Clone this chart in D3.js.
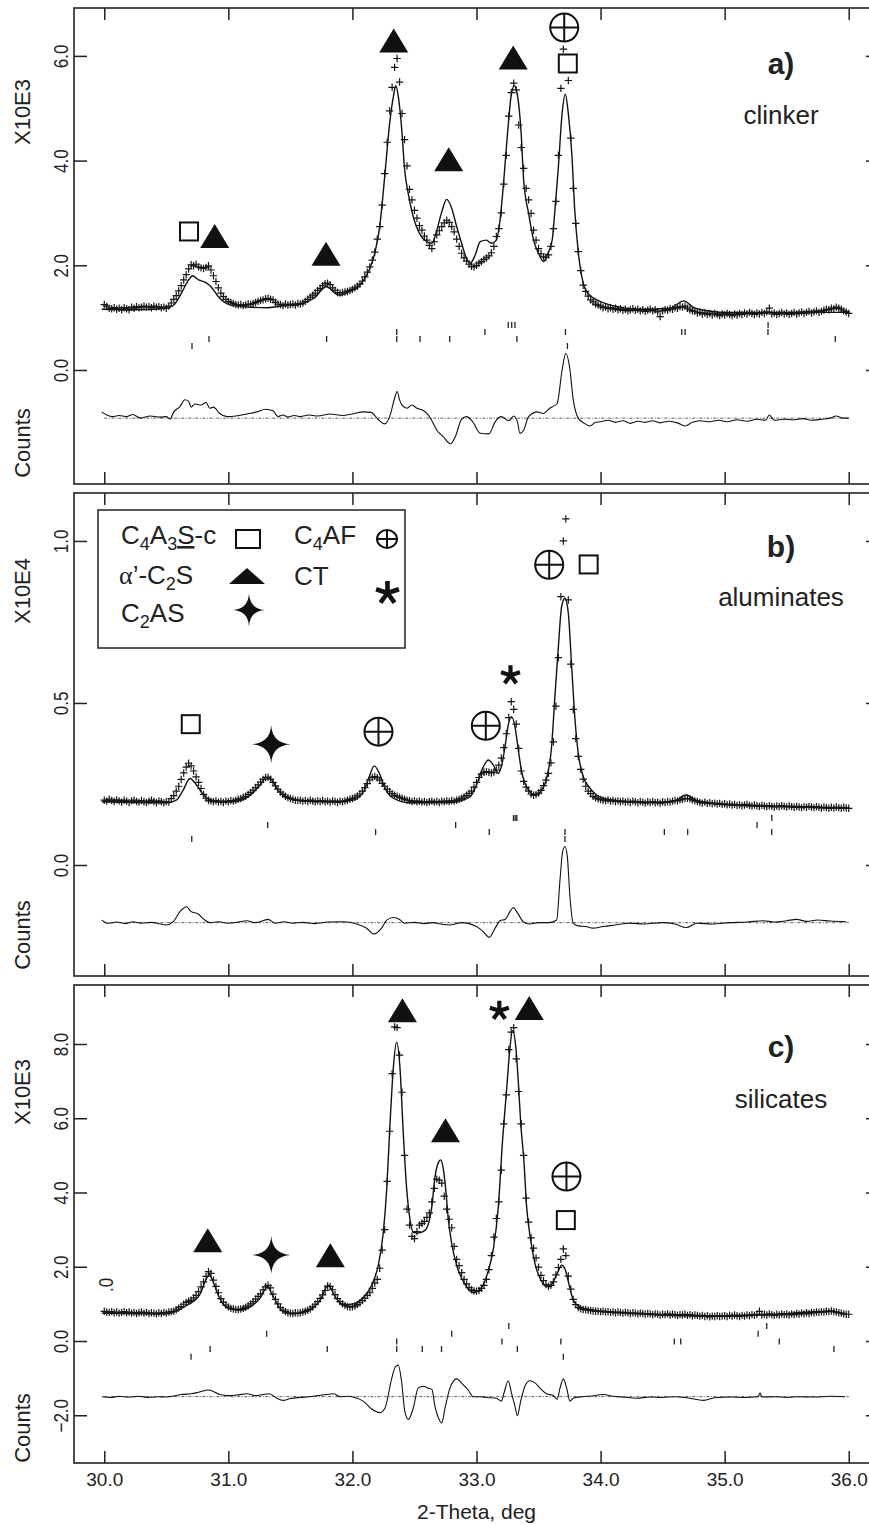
<!DOCTYPE html>
<meta charset="utf-8">
<style>

body {
  margin: 0;
  background: #fff;
}

svg {
  display: block;
  font-family: "Liberation Sans", Arial, Helvetica, sans-serif;
}

.frame { fill: none; stroke: #222; stroke-width: 1.6; }
.axis line { stroke: #222; stroke-width: 1.5; }
.obs { fill: none; stroke: #161616; stroke-width: 1.2; }
.calc { fill: none; stroke: #111; stroke-width: 1.4; }
.diff { fill: none; stroke: #111; stroke-width: 1.1; }
.zero { stroke: #333; stroke-width: 0.8; stroke-dasharray: 3,1.5,1,1.5; }
.refl { stroke: #222; stroke-width: 1.3; }

</style>
<body>
<script src="https://d3js.org/d3.v7.min.js"></script>
<script>

var width = 869,
    height = 1525;

// observed points are on a 0.02 deg grid starting at 30.00
var obsStart = 30.0,
    obsStep = 0.02;

var xTicks = [30, 31, 32, 33, 34, 35, 36];

// a) clinker, counts x10E3
var obsA = [
  1.25,1.22,1.18,1.17,1.19,1.16,1.18,1.15,1.19,1.17,1.15,1.20,1.18,1.21,1.19,1.20,1.22,1.20,1.21,1.19,1.22,1.20,1.21,1.19,1.20,
  1.18,1.22,1.28,1.35,1.42,1.51,1.61,1.72,1.82,1.93,2.01,1.99,2.02,1.97,1.95,1.94,1.96,1.99,1.91,1.80,1.69,1.57,1.47,1.40,1.35,
  1.31,1.29,1.27,1.25,1.24,1.25,1.23,1.24,1.26,1.25,1.27,1.29,1.31,1.33,1.34,1.36,1.37,1.35,1.34,1.29,1.26,1.25,1.23,1.26,1.24,
  1.25,1.26,1.24,1.27,1.26,1.28,1.31,1.35,1.39,1.43,1.47,1.52,1.56,1.61,1.65,1.66,1.63,1.57,1.52,1.48,1.47,1.48,1.49,1.50,1.52,
  1.54,1.57,1.60,1.64,1.70,1.78,1.87,1.97,2.10,2.25,2.50,2.74,3.15,3.75,4.35,4.95,5.40,5.78,5.95,5.50,4.90,4.40,3.90,3.45,3.25,
  3.05,2.90,2.76,2.67,2.56,2.48,2.38,2.32,2.45,2.58,2.66,2.74,2.81,2.86,2.82,2.74,2.64,2.50,2.36,2.23,2.14,2.08,2.02,1.98,1.97,
  2.00,2.04,2.07,2.11,2.14,2.18,2.24,2.36,2.55,2.70,3.00,3.55,4.10,4.85,5.30,5.48,5.35,4.68,4.25,3.85,3.47,3.25,2.99,2.67,2.48,
  2.32,2.22,2.16,2.15,2.20,2.36,2.70,3.22,4.10,5.38,6.13,5.85,5.53,4.43,3.47,2.80,2.26,1.90,1.62,1.50,1.41,1.34,1.30,1.26,1.24,
  1.22,1.19,1.20,1.17,1.19,1.16,1.18,1.15,1.17,1.14,1.16,1.13,1.15,1.17,1.14,1.16,1.13,1.15,1.12,1.14,1.16,1.13,1.15,1.11,1.02,
  1.13,1.15,1.14,1.17,1.16,1.19,1.18,1.21,1.20,1.22,1.18,1.15,1.13,1.12,1.09,1.10,1.07,1.09,1.06,1.08,1.05,1.08,1.06,1.04,1.07,
  1.05,1.08,1.06,1.04,1.07,1.05,1.08,1.06,1.09,1.07,1.10,1.08,1.06,1.09,1.07,1.10,1.08,1.11,1.18,1.07,1.09,1.06,1.08,1.10,1.07,
  1.09,1.06,1.08,1.10,1.07,1.09,1.11,1.08,1.10,1.12,1.09,1.11,1.13,1.10,1.12,1.14,1.16,1.15,1.18,1.17,1.20,1.18,1.16,1.13,1.11,
  1.08
];

var calcA = [
  [29.98,1.16],[30.23,1.15],[30.50,1.18],[30.56,1.24],[30.62,1.46],[30.68,1.72],[30.71,1.80],[30.76,1.72],
  [30.82,1.67],[30.86,1.59],[30.92,1.40],[30.97,1.29],[31.04,1.23],[31.31,1.19],[31.42,1.22],[31.58,1.26],
  [31.69,1.37],[31.79,1.59],[31.89,1.43],[31.98,1.50],[32.06,1.62],[32.13,1.88],[32.18,2.23],[32.22,2.74],
  [32.26,3.69],[32.30,4.71],[32.33,5.22],[32.35,5.43],[32.37,5.22],[32.40,4.52],[32.42,3.85],[32.45,3.37],
  [32.49,2.93],[32.54,2.61],[32.60,2.45],[32.64,2.42],[32.68,2.67],[32.72,3.02],[32.76,3.26],[32.80,3.09],
  [32.84,2.74],[32.88,2.42],[32.92,2.13],[32.95,2.04],[32.99,2.20],[33.03,2.45],[33.08,2.48],[33.12,2.42],
  [33.16,2.48],[33.19,2.87],[33.22,3.63],[33.25,4.52],[33.28,5.25],[33.305,5.43],[33.33,5.25],[33.36,4.52],
  [33.38,3.63],[33.42,2.99],[33.46,2.48],[33.50,2.23],[33.54,2.07],[33.57,2.20],[33.61,2.48],[33.63,2.99],
  [33.66,3.88],[33.69,4.90],[33.716,5.27],[33.74,4.90],[33.77,4.07],[33.79,3.12],[33.82,2.26],[33.86,1.66],
  [33.90,1.46],[33.97,1.34],[34.08,1.24],[34.35,1.16],[34.56,1.18],[34.67,1.32],[34.76,1.18],[35.02,1.10],
  [35.55,1.10],[36.00,1.10]
];

var diffA = [
  [29.98,-0.80],[30.02,-0.86],[30.07,-0.89],[30.12,-0.87],[30.18,-0.89],[30.23,-0.85],[30.29,-0.92],[30.37,-0.88],
  [30.45,-0.90],[30.50,-0.89],[30.53,-0.94],[30.56,-0.80],[30.61,-0.70],[30.65,-0.57],[30.68,-0.60],[30.70,-0.71],
  [30.73,-0.65],[30.78,-0.67],[30.82,-0.62],[30.85,-0.73],[30.88,-0.71],[30.93,-0.83],[30.99,-0.89],[31.06,-0.88],
  [31.15,-0.84],[31.23,-0.80],[31.30,-0.75],[31.36,-0.78],[31.40,-0.89],[31.44,-0.86],[31.48,-0.90],[31.53,-0.87],
  [31.58,-0.89],[31.65,-0.86],[31.72,-0.88],[31.82,-0.84],[31.92,-0.87],[32.00,-0.84],[32.09,-0.80],[32.15,-0.81],
  [32.21,-0.95],[32.26,-1.03],[32.30,-0.89],[32.34,-0.54],[32.36,-0.41],[32.38,-0.57],[32.40,-0.67],[32.44,-0.73],
  [32.48,-0.67],[32.52,-0.73],[32.56,-0.76],[32.60,-0.83],[32.64,-0.97],[32.68,-1.15],[32.73,-1.27],[32.79,-1.41],
  [32.83,-1.27],[32.88,-0.94],[32.92,-0.89],[32.97,-0.99],[33.03,-1.21],[33.10,-1.22],[33.15,-0.99],[33.20,-0.89],
  [33.26,-0.97],[33.30,-0.88],[33.33,-0.99],[33.35,-1.21],[33.38,-1.15],[33.42,-0.89],[33.49,-0.80],[33.54,-0.83],
  [33.59,-0.73],[33.65,-0.64],[33.69,0.00],[33.72,0.32],[33.75,0.06],[33.78,-0.57],[33.82,-0.92],[33.87,-1.02],
  [33.915,-1.07],[33.96,-1.00],[34.00,-0.99],[34.06,-0.96],[34.12,-1.00],[34.18,-0.97],[34.24,-1.02],[34.30,-0.98],
  [34.36,-1.00],[34.42,-0.97],[34.48,-1.01],[34.55,-0.98],[34.62,-1.01],[34.68,-1.07],[34.74,-1.00],[34.80,-0.97],
  [34.88,-0.99],[34.95,-0.96],[35.02,-0.99],[35.10,-0.95],[35.18,-0.98],[35.26,-0.94],[35.33,-0.96],[35.36,-0.86],
  [35.40,-0.96],[35.48,-0.94],[35.55,-0.95],[35.63,-0.93],[35.70,-0.96],[35.78,-0.94],[35.85,-0.92],[35.90,-0.88],
  [35.95,-0.92],[36.00,-0.92]
];

// reflection positions, one row per phase (top to bottom)
var reflA = [
  [33.256, 33.284, 33.310, 35.350],
  [32.357, 33.068, 33.717, 34.654, 34.681, 35.349],
  [30.844, 31.792, 32.357, 32.545, 32.784, 33.326, 35.892],
  [30.707, 33.733]
];

var marksA = [
  ["sq", 30.683, 2.646], ["tri", 30.89, 2.56], ["tri", 31.787, 2.22], ["tri", 32.333, 6.294],
  ["tri", 32.776, 4.027], ["tri", 33.296, 5.969], ["oplus", 33.707, 6.542], ["sq", 33.736, 5.855]
];

// b) aluminates, counts x10E4
var obsB = [
  0.200,0.197,0.203,0.199,0.196,0.201,0.198,0.194,0.200,0.197,0.193,0.198,0.200,0.196,0.194,0.199,0.195,0.193,0.197,0.200,0.196,0.193,0.198,0.195,0.192,
  0.196,0.194,0.205,0.214,0.228,0.243,0.264,0.284,0.302,0.314,0.306,0.290,0.272,0.255,0.236,0.218,0.206,0.200,0.197,0.195,0.198,0.194,0.196,0.193,0.197,
  0.195,0.199,0.197,0.200,0.203,0.205,0.209,0.212,0.218,0.224,0.231,0.239,0.247,0.256,0.264,0.270,0.271,0.265,0.255,0.244,0.234,0.225,0.218,0.212,0.208,
  0.205,0.203,0.200,0.199,0.200,0.197,0.199,0.196,0.200,0.197,0.195,0.198,0.196,0.199,0.195,0.197,0.194,0.198,0.196,0.193,0.197,0.195,0.198,0.200,0.203,
  0.205,0.209,0.213,0.219,0.228,0.239,0.251,0.263,0.270,0.273,0.269,0.262,0.252,0.243,0.234,0.226,0.220,0.215,0.212,0.209,0.206,0.203,0.200,0.199,0.196,
  0.198,0.195,0.197,0.194,0.196,0.193,0.195,0.197,0.194,0.196,0.193,0.197,0.195,0.198,0.196,0.199,0.197,0.200,0.203,0.206,0.210,0.215,0.221,0.228,0.240,
  0.255,0.270,0.281,0.286,0.288,0.286,0.284,0.287,0.293,0.308,0.330,0.362,0.405,0.455,0.504,0.480,0.435,0.360,0.290,0.258,0.240,0.228,0.219,0.215,0.217,
  0.222,0.230,0.245,0.262,0.283,0.315,0.380,0.490,0.640,0.828,1.000,1.068,0.818,0.620,0.480,0.390,0.335,0.295,0.265,0.243,0.228,0.220,0.212,0.207,0.204,
  0.202,0.200,0.198,0.201,0.197,0.199,0.196,0.198,0.195,0.197,0.194,0.196,0.193,0.197,0.195,0.192,0.196,0.194,0.191,0.195,0.193,0.196,0.192,0.194,0.191,
  0.195,0.193,0.196,0.194,0.197,0.199,0.198,0.201,0.203,0.205,0.206,0.204,0.201,0.198,0.196,0.193,0.191,0.194,0.190,0.192,0.189,0.191,0.188,0.190,0.187,
  0.189,0.186,0.188,0.185,0.187,0.184,0.186,0.183,0.185,0.187,0.184,0.182,0.185,0.183,0.181,0.184,0.182,0.180,0.183,0.181,0.179,0.182,0.180,0.183,0.181,
  0.179,0.182,0.180,0.178,0.181,0.179,0.177,0.180,0.178,0.181,0.179,0.177,0.180,0.178,0.176,0.179,0.177,0.175,0.178,0.176,0.179,0.177,0.175,0.178,0.176,
  0.175
];

var calcB = [
  [29.98,0.195],[30.50,0.192],[30.58,0.200],[30.636,0.231],[30.69,0.267],[30.744,0.247],[30.80,0.216],[30.88,0.199],
  [31.04,0.195],[31.17,0.213],[31.255,0.247],[31.31,0.270],[31.35,0.262],[31.40,0.231],[31.47,0.209],[31.58,0.199],
  [31.85,0.195],[32.007,0.200],[32.09,0.226],[32.136,0.273],[32.176,0.306],[32.217,0.283],[32.262,0.237],[32.33,0.206],
  [32.46,0.192],[32.79,0.193],[32.95,0.211],[33.00,0.247],[33.055,0.303],[33.095,0.324],[33.135,0.309],[33.176,0.283],
  [33.20,0.303],[33.23,0.365],[33.256,0.432],[33.283,0.458],[33.31,0.427],[33.337,0.355],[33.364,0.288],[33.39,0.252],
  [33.43,0.226],[33.47,0.216],[33.525,0.231],[33.565,0.267],[33.605,0.365],[33.632,0.520],[33.66,0.674],[33.686,0.797],
  [33.713,0.823],[33.74,0.777],[33.767,0.612],[33.794,0.448],[33.82,0.345],[33.86,0.273],[33.915,0.237],[34.02,0.206],
  [34.24,0.195],[34.50,0.192],[34.61,0.200],[34.69,0.216],[34.775,0.199],[35.04,0.185],[35.50,0.180],[36.00,0.175]
];

var diffB = [
  [29.98,-0.170],[30.03,-0.180],[30.10,-0.176],[30.17,-0.181],[30.23,-0.175],[30.30,-0.180],[30.38,-0.177],[30.45,-0.182],
  [30.50,-0.185],[30.556,-0.175],[30.61,-0.144],[30.663,-0.129],[30.70,-0.144],[30.757,-0.151],[30.80,-0.167],[30.85,-0.178],
  [30.92,-0.175],[31.00,-0.180],[31.08,-0.176],[31.147,-0.172],[31.22,-0.178],[31.32,-0.168],[31.38,-0.180],[31.45,-0.175],
  [31.52,-0.180],[31.60,-0.177],[31.70,-0.181],[31.80,-0.176],[31.93,-0.175],[32.034,-0.182],[32.114,-0.195],[32.174,-0.213],
  [32.235,-0.195],[32.276,-0.170],[32.33,-0.162],[32.38,-0.168],[32.42,-0.180],[32.50,-0.177],[32.58,-0.181],[32.65,-0.178],
  [32.72,-0.183],[32.79,-0.185],[32.88,-0.178],[33.00,-0.190],[33.055,-0.206],[33.103,-0.223],[33.15,-0.195],[33.19,-0.172],
  [33.23,-0.168],[33.27,-0.144],[33.297,-0.131],[33.329,-0.147],[33.377,-0.175],[33.43,-0.182],[33.50,-0.178],[33.58,-0.178],
  [33.646,-0.170],[33.673,-0.046],[33.694,0.041],[33.713,0.057],[33.732,0.026],[33.753,-0.098],[33.78,-0.180],[33.82,-0.188],
  [33.88,-0.190],[33.94,-0.195],[34.02,-0.190],[34.10,-0.186],[34.24,-0.180],[34.35,-0.182],[34.50,-0.178],[34.60,-0.182],
  [34.69,-0.193],[34.775,-0.180],[34.90,-0.182],[35.04,-0.178],[35.18,-0.176],[35.31,-0.172],[35.40,-0.176],[35.50,-0.172],
  [35.58,-0.168],[35.66,-0.174],[35.75,-0.170],[35.85,-0.173],[35.98,-0.175]
];

var reflB = [
  [33.298, 33.312, 33.325, 35.380],
  [31.317, 32.832, 35.261],
  [32.187, 33.103, 33.713, 34.514, 34.702, 35.379],
  [30.705, 33.713]
];

var marksB = [
  ["sq", 30.697, 0.4346], ["star", 31.345, 0.3728], ["oplus", 32.21, 0.4114], ["oplus", 33.075, 0.4296],
  ["ast", 33.274, 0.5855], ["oplus", 33.586, 0.9265], ["sq", 33.904, 0.9275]
];

// c) silicates, counts x10E3
var obsC = [
  0.80,0.78,0.77,0.79,0.76,0.78,0.75,0.77,0.79,0.76,0.78,0.75,0.77,0.74,0.76,0.78,0.75,0.77,0.74,0.76,0.75,0.73,0.76,0.74,0.77,
  0.75,0.78,0.79,0.80,0.84,0.89,0.93,0.99,1.04,1.07,1.10,1.16,1.23,1.33,1.46,1.59,1.74,1.87,1.82,1.64,1.47,1.30,1.14,1.04,0.97,
  0.92,0.88,0.86,0.85,0.85,0.86,0.88,0.91,0.95,1.00,1.06,1.13,1.20,1.27,1.38,1.46,1.50,1.43,1.26,1.12,1.00,0.90,0.83,0.79,0.76,
  0.75,0.74,0.76,0.75,0.76,0.78,0.80,0.83,0.86,0.92,0.99,1.06,1.15,1.24,1.36,1.48,1.47,1.38,1.25,1.14,1.06,1.00,0.96,0.93,0.91,
  0.92,0.94,0.98,1.03,1.09,1.15,1.23,1.30,1.42,1.56,1.66,1.96,2.45,3.00,4.30,5.65,7.20,8.46,8.44,7.70,6.70,5.00,3.55,3.12,2.82,
  2.76,2.95,3.12,3.17,3.22,3.33,3.45,3.75,4.11,4.36,4.33,4.25,3.90,3.55,3.28,3.05,2.55,2.20,2.03,1.84,1.66,1.54,1.44,1.38,1.35,
  1.34,1.36,1.42,1.50,1.66,1.92,2.30,2.80,3.30,3.75,4.60,5.85,6.63,7.85,8.32,8.44,7.60,6.72,5.85,5.00,3.85,3.20,2.78,2.50,2.24,
  1.99,1.77,1.63,1.52,1.47,1.50,1.59,1.78,1.98,2.20,2.48,2.30,1.75,1.40,1.12,0.98,0.90,0.87,0.85,0.84,0.83,0.82,0.81,0.80,0.80,
  0.79,0.80,0.78,0.79,0.77,0.78,0.76,0.78,0.77,0.75,0.77,0.76,0.74,0.76,0.75,0.73,0.75,0.74,0.72,0.74,0.73,0.71,0.73,0.72,0.70,
  0.72,0.71,0.73,0.70,0.72,0.71,0.69,0.71,0.70,0.72,0.69,0.71,0.68,0.70,0.69,0.67,0.69,0.66,0.68,0.65,0.67,0.66,0.68,0.66,0.67,
  0.68,0.66,0.69,0.67,0.70,0.68,0.66,0.69,0.67,0.70,0.68,0.71,0.69,0.72,0.80,0.70,0.72,0.70,0.73,0.71,0.69,0.72,0.70,0.73,0.71,
  0.72,0.70,0.73,0.71,0.74,0.72,0.75,0.73,0.76,0.74,0.77,0.76,0.78,0.77,0.79,0.78,0.80,0.79,0.81,0.79,0.78,0.76,0.75,0.73,0.72,
  0.72
];

var calcC = [
  [29.98,0.75],[30.50,0.73],[30.66,0.95],[30.77,1.25],[30.825,1.69],[30.846,1.79],[30.878,1.59],[30.93,1.15],
  [31.01,0.87],[31.09,0.83],[31.255,1.15],[31.316,1.46],[31.36,1.20],[31.44,0.80],[31.52,0.73],[31.63,0.80],
  [31.74,1.10],[31.805,1.50],[31.86,1.20],[31.926,0.97],[32.007,1.00],[32.087,1.17],[32.155,1.50],[32.208,2.04],
  [32.249,2.93],[32.276,4.06],[32.302,5.79],[32.33,7.37],[32.356,8.05],[32.383,7.37],[32.41,5.59],[32.437,4.11],
  [32.464,3.27],[32.49,2.93],[32.53,2.91],[32.585,2.98],[32.64,3.62],[32.665,4.41],[32.692,4.80],[32.711,4.88],
  [32.732,4.65],[32.754,4.01],[32.773,3.27],[32.80,2.63],[32.84,2.04],[32.88,1.69],[32.92,1.46],[32.974,1.30],
  [33.015,1.35],[33.055,1.52],[33.095,1.89],[33.136,2.48],[33.176,3.62],[33.21,5.40],[33.243,6.78],[33.27,7.91],
  [33.29,8.36],[33.318,7.87],[33.337,6.98],[33.356,5.89],[33.383,4.80],[33.404,3.62],[33.436,2.73],[33.471,2.09],
  [33.512,1.69],[33.552,1.49],[33.587,1.46],[33.625,1.64],[33.66,1.89],[33.686,2.04],[33.713,1.94],[33.748,1.49],
  [33.78,1.10],[33.82,0.95],[33.915,0.85],[34.237,0.75],[34.774,0.67],[35.31,0.70],[35.85,0.80],[35.97,0.72]
];

var diffC = [
  [29.98,-1.50],[30.05,-1.52],[30.12,-1.49],[30.20,-1.51],[30.28,-1.49],[30.36,-1.52],[30.44,-1.50],[30.50,-1.51],
  [30.56,-1.48],[30.62,-1.44],[30.70,-1.42],[30.76,-1.38],[30.84,-1.32],[30.93,-1.44],[31.00,-1.47],[31.08,-1.45],
  [31.15,-1.42],[31.22,-1.47],[31.28,-1.44],[31.33,-1.42],[31.39,-1.54],[31.44,-1.60],[31.50,-1.55],[31.58,-1.52],
  [31.65,-1.50],[31.72,-1.47],[31.79,-1.44],[31.85,-1.42],[31.90,-1.50],[31.96,-1.49],[32.02,-1.52],[32.087,-1.62],
  [32.155,-1.83],[32.22,-1.93],[32.262,-1.81],[32.316,-1.02],[32.345,-0.70],[32.37,-0.65],[32.397,-1.12],[32.423,-1.91],
  [32.45,-2.11],[32.49,-1.81],[32.53,-1.27],[32.57,-1.22],[32.61,-1.27],[32.64,-1.30],[32.665,-1.76],[32.692,-2.06],
  [32.72,-2.21],[32.746,-1.81],[32.786,-1.27],[32.84,-1.02],[32.89,-1.17],[32.934,-1.32],[32.974,-1.50],[33.03,-1.50],
  [33.08,-1.52],[33.16,-1.54],[33.20,-1.62],[33.22,-1.42],[33.256,-1.07],[33.283,-1.42],[33.31,-1.76],[33.33,-2.01],
  [33.356,-1.62],[33.39,-1.22],[33.43,-1.07],[33.47,-1.12],[33.512,-1.27],[33.565,-1.42],[33.62,-1.47],[33.65,-1.57],
  [33.673,-1.27],[33.70,-1.02],[33.727,-1.27],[33.753,-1.62],[33.78,-1.54],[33.85,-1.50],[33.93,-1.48],[34.022,-1.44],
  [34.10,-1.49],[34.18,-1.51],[34.29,-1.54],[34.40,-1.51],[34.50,-1.52],[34.60,-1.50],[34.70,-1.53],[34.83,-1.60],
  [34.92,-1.53],[35.05,-1.51],[35.15,-1.52],[35.27,-1.50],[35.285,-1.40],[35.30,-1.51],[35.40,-1.50],[35.50,-1.52],
  [35.60,-1.50],[35.72,-1.51],[35.85,-1.49],[35.97,-1.50]
];

var reflC = [
  [33.260, 35.339],
  [31.309, 32.800, 35.270],
  [32.357, 33.205, 33.680, 34.594, 34.646, 35.440],
  [30.853, 31.797, 32.357, 32.563, 32.718, 33.329, 35.881],
  [30.699, 33.700]
];

var marksC = [
  ["tri", 30.834, 2.713], ["star", 31.346, 2.315], ["tri", 31.822, 2.307], ["tri", 32.403, 8.91],
  ["ast", 33.184, 8.896], ["tri", 33.425, 8.972], ["tri", 32.75, 5.68], ["oplus", 33.725, 4.428],
  ["sq", 33.72, 3.257]
];

var panels = [
  {obs: obsA, calc: calcA, diff: diffA, zero: -0.92, refl: reflA, marks: marksA,
   top: 8, bottom: 484, domain: [-2.178, 6.915], yTicks: [0, 2, 4, 6],
   unit: "X10E3", unitY: 112, countsY: 443, reflTop: 0.917, reflGap: 7,
   label: "a)", labelY: 74, name: "clinker", nameY: 124},
  {obs: obsB, calc: calcB, diff: diffB, zero: -0.178, refl: reflB, marks: marksB,
   top: 493, bottom: 976, domain: [-0.3426, 1.148], yTicks: [0, 0.5, 1],
   unit: "X10E4", unitY: 591, countsY: 935, reflTop: 0.154, reflGap: 7,
   label: "b)", labelY: 557, name: "aluminates", nameY: 606},
  {obs: obsC, calc: calcC, diff: diffC, zero: -1.498, refl: reflC, marks: marksC,
   top: 985, bottom: 1463, domain: [-3.286, 9.589], yTicks: [-2, 0, 2, 4, 6, 8],
   unit: "X10E3", unitY: 1092, countsY: 1428, reflTop: 0.485, reflGap: 7.7,
   label: "c)", labelY: 1057, name: "silicates", nameY: 1108, last: true}
];

var left = 74, right = 879;

var svg = d3.select("body").append("svg")
    .attr("width", width)
    .attr("height", height);

var x = d3.scaleLinear()
    .domain([29.756, 36.244])
    .range([left, right]);

var fmt = d3.format(".1f");

function symbol(g, type, cx, cy, w, h) {
  if (type === "tri") {
    g.append("path")
        .attr("d", "M" + (cx - w / 2) + "," + (cy + h / 2) + "L" + (cx + w / 2) + "," + (cy + h / 2) + "L" + cx + "," + (cy - h / 2) + "Z")
        .attr("fill", "#111");
  } else if (type === "sq") {
    g.append("rect")
        .attr("x", cx - w / 2).attr("y", cy - h / 2)
        .attr("width", w).attr("height", h)
        .attr("fill", "#fff").attr("stroke", "#111").attr("stroke-width", 2);
  } else if (type === "oplus") {
    g.append("ellipse")
        .attr("cx", cx).attr("cy", cy).attr("rx", w / 2).attr("ry", h / 2)
        .attr("fill", "#fff").attr("stroke", "#111").attr("stroke-width", 2);
    g.append("path")
        .attr("d", "M" + (cx - w / 2) + "," + cy + "H" + (cx + w / 2) + "M" + cx + "," + (cy - h / 2) + "V" + (cy + h / 2))
        .attr("stroke", "#111").attr("stroke-width", 2);
  } else if (type === "star") {
    var a = w / 2, b = h / 2, q = w * 0.03;
    g.append("path")
        .attr("d", "M" + cx + "," + (cy - b)
          + "Q" + (cx + q) + "," + (cy - q) + " " + (cx + a) + "," + cy
          + "Q" + (cx + q) + "," + (cy + q) + " " + cx + "," + (cy + b)
          + "Q" + (cx - q) + "," + (cy + q) + " " + (cx - a) + "," + cy
          + "Q" + (cx - q) + "," + (cy - q) + " " + cx + "," + (cy - b) + "Z")
        .attr("fill", "#111");
  } else if (type === "ast") {
    // five bold arms; w = arm length, h = stroke width
    var d = "";
    for (var k = 0; k < 5; k++) {
      var ang = (-90 + k * 72) * Math.PI / 180;
      d += "M" + cx + "," + cy + "L" + (cx + w * Math.cos(ang)) + "," + (cy + w * Math.sin(ang));
    }
    g.append("path").attr("d", d)
        .attr("stroke", "#111").attr("stroke-width", h).attr("fill", "none");
  }
}

var plotSize = {
  tri: [29, 24], sq: [18, 18], oplus: [28, 28], star: [39, 38], ast: [10, 4.2]
};

panels.forEach(function(p) {
  var y = d3.scaleLinear()
      .domain(p.domain)
      .range([p.bottom, p.top]);

  var g = svg.append("g");

  // axes with inward ticks on all four sides
  g.append("g")
      .attr("class", "axis")
      .attr("transform", "translate(0," + p.top + ")")
      .call(d3.axisTop(x).tickValues(xTicks).tickSizeInner(-12).tickSizeOuter(0).tickFormat(""))
      .call(function(a) { a.select(".domain").remove(); });

  g.append("g")
      .attr("class", "axis")
      .attr("transform", "translate(0," + p.bottom + ")")
      .call(d3.axisBottom(x).tickValues(xTicks).tickSizeInner(-12).tickSizeOuter(0)
        .tickPadding(9.5).tickFormat(p.last ? fmt : ""))
      .call(function(a) {
        a.select(".domain").remove();
        a.attr("font-size", 19).attr("font-family", null);
        a.selectAll("text").attr("fill", "#222");
      });

  g.append("g")
      .attr("class", "axis")
      .attr("transform", "translate(" + left + ",0)")
      .call(d3.axisLeft(y).tickValues(p.yTicks).tickSizeInner(-13).tickSizeOuter(0).tickFormat(fmt))
      .call(function(a) {
        a.select(".domain").remove();
        a.attr("font-size", 20).attr("font-family", null).attr("text-anchor", "middle");
        a.selectAll("text")
            .attr("x", null).attr("dy", null).attr("fill", "#222")
            .attr("transform", "translate(-6,0) rotate(-90) scale(0.85,1)");
      });

  g.append("g")
      .attr("class", "axis")
      .attr("transform", "translate(" + right + ",0)")
      .call(d3.axisRight(y).tickValues(p.yTicks).tickSizeInner(-13).tickSizeOuter(0).tickFormat(""))
      .call(function(a) { a.select(".domain").remove(); });

  g.append("rect")
      .attr("class", "frame")
      .attr("x", left)
      .attr("y", p.top)
      .attr("width", right - left)
      .attr("height", p.bottom - p.top);

  // axis titles
  g.append("text")
      .attr("transform", "translate(30," + p.unitY + ") rotate(-90)")
      .attr("text-anchor", "middle")
      .attr("font-size", 22)
      .attr("fill", "#222")
      .text(p.unit);

  g.append("text")
      .attr("transform", "translate(30," + p.countsY + ") rotate(-90)")
      .attr("text-anchor", "middle")
      .attr("font-size", 22)
      .attr("fill", "#222")
      .text("Counts");

  // reflection markers
  p.refl.forEach(function(row, r) {
    var y0 = y(p.reflTop) + r * p.reflGap;
    g.selectAll(null)
        .data(row)
      .enter().append("line")
        .attr("class", "refl")
        .attr("x1", function(d) { return x(d); })
        .attr("x2", function(d) { return x(d); })
        .attr("y1", y0)
        .attr("y2", y0 + 6);
  });

  // difference curve and its zero line
  g.append("line")
      .attr("class", "zero")
      .attr("x1", x(30)).attr("x2", x(36))
      .attr("y1", y(p.zero)).attr("y2", y(p.zero));

  var line = d3.line()
      .x(function(d) { return x(d[0]); })
      .y(function(d) { return y(d[1]); })
      .curve(d3.curveMonotoneX);

  g.append("path")
      .attr("class", "diff")
      .attr("d", line(p.diff));

  g.append("path")
      .attr("class", "calc")
      .attr("d", line(p.calc));

  // observed points as "+"
  var plus = p.obs.map(function(v, i) {
    var px = x(obsStart + i * obsStep), py = y(v);
    return "M" + (px - 3.7) + "," + py + "h7.4M" + px + "," + (py - 3.7) + "v7.4";
  }).join("");

  g.append("path")
      .attr("class", "obs")
      .attr("d", plus);

  // phase symbols over the peaks
  p.marks.forEach(function(m) {
    var s = plotSize[m[0]];
    symbol(g, m[0], x(m[1]), y(m[2]), s[0], s[1]);
  });

  // panel label
  g.append("text")
      .attr("x", 781).attr("y", p.labelY)
      .attr("text-anchor", "middle")
      .attr("font-size", 30)
      .attr("font-weight", "bold")
      .attr("fill", "#222")
      .text(p.label);

  g.append("text")
      .attr("x", 781).attr("y", p.nameY)
      .attr("text-anchor", "middle")
      .attr("font-size", 26)
      .attr("fill", "#222")
      .text(p.name);

  if (p.last) {
    g.append("text")
        .attr("transform", "translate(" + (x(30) + 9) + "," + y(1.51) + ") rotate(-90) scale(0.85,1)")
        .attr("text-anchor", "middle")
        .attr("font-size", 20)
        .attr("fill", "#222")
        .text(".0");
  }
});

svg.append("text")
    .attr("x", x(33))
    .attr("y", 1519)
    .attr("text-anchor", "middle")
    .attr("font-size", 21)
    .attr("fill", "#222")
    .text("2-Theta, deg");

// legend (inside panel b)
var legend = svg.append("g");

legend.append("rect")
    .attr("x", 98).attr("y", 510)
    .attr("width", 307).attr("height", 138)
    .attr("fill", "#fff").attr("stroke", "#222").attr("stroke-width", 1.5);

function legendText(xp, yp, parts) {
  var t = legend.append("text")
      .attr("x", xp).attr("y", yp)
      .attr("font-size", 26)
      .attr("fill", "#222");
  parts.forEach(function(s) {
    var ts = t.append("tspan").text(s[0]);
    if (s[1] === "sub") ts.attr("font-size", 18).attr("dy", 6);
    if (s[1] === "up") ts.attr("dy", -6);
    if (s[1] === "line") ts.attr("dy", -6).attr("text-decoration", "underline");
    if (s[1] === "serif") ts.attr("font-family", "'Liberation Serif', 'DejaVu Serif', serif");
  });
}

legendText(121, 544, [["C"], ["4", "sub"], ["A", "up"], ["3", "sub"], ["S", "line"], ["-c"]]);
legendText(119, 584, [["\u03b1", "serif"], ["\u2019-C"], ["2", "sub"], ["S", "up"]]);
legendText(121, 622, [["C"], ["2", "sub"], ["AS", "up"]]);
legendText(294, 544, [["C"], ["4", "sub"], ["AF", "up"]]);
legendText(294, 585, [["CT"]]);

symbol(legend, "sq", 248, 539, 24, 18);
symbol(legend, "tri", 247, 576, 36, 16);
symbol(legend, "star", 249, 610, 32, 33);
symbol(legend, "oplus", 387, 539, 20, 18);
symbol(legend, "ast", 387.5, 593, 12, 4.6);

</script>
